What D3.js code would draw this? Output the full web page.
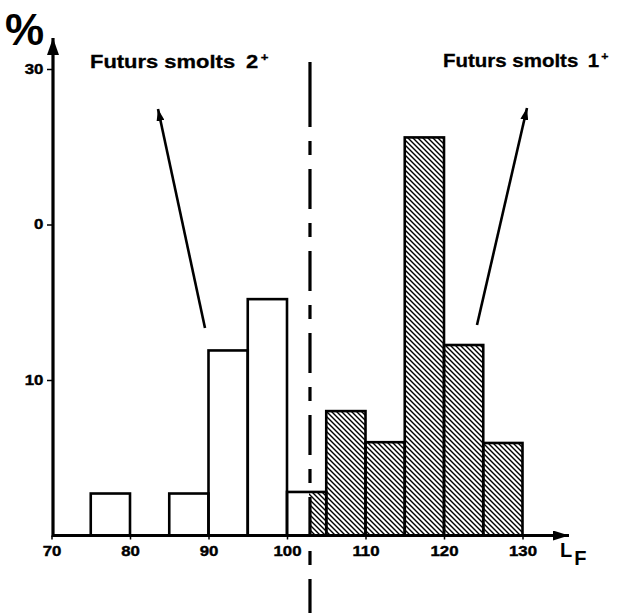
<!DOCTYPE html>
<html>
<head>
<meta charset="utf-8">
<script src="https://cdn.jsdelivr.net/npm/d3@7"></script>
<style>
  html, body { margin: 0; padding: 0; background: #fff; }
  svg { display: block; }
  text { font-family: "Liberation Sans", Arial, sans-serif; font-weight: bold; fill: #000; }
</style>
</head>
<body>
<svg id="chart" width="626" height="613"></svg>
<script>
// ---- data ----
const binStart  = [75, 85, 90, 95, 100, 105, 110, 115, 120, 125];
const binWidth  = 5;
const binValues = [2.7, 2.7, 11.9, 15.2, 2.8, 8.0, 6.0, 25.6, 12.25, 5.95];
const splitValue = 102.8;              // dashed separation line (L_F)
const xTicks = [70, 80, 90, 100, 110, 120, 130];
const yTicks = [10, 20, 30];
const yTickLabels = ["10", "0", "30"];
const groupLabels = ["Futurs smolts", "Futurs smolts"];
const groupAges = ["2", "1"];

// ---- layout ----
const svg = d3.select("#chart");
const x = d3.scaleLinear().domain([70, 130]).range([51.5, 522.5]);
const y = d3.scaleLinear().domain([0, 30]).range([535.5, 69]);
const axisX = 53;

const defs = svg.append("defs");
const pat = defs.append("pattern")
  .attr("id", "hatch").attr("patternUnits", "userSpaceOnUse")
  .attr("width", 5).attr("height", 5);
pat.append("path")
  .attr("d", "M-1,-1 L6,6 M-1,4 L1,6 M4,-1 L6,1")
  .attr("stroke", "#000").attr("stroke-width", 1.4);

function marker(id, len, wid) {
  defs.append("marker")
    .attr("id", id).attr("markerUnits", "userSpaceOnUse")
    .attr("markerWidth", len).attr("markerHeight", wid)
    .attr("refX", len).attr("refY", wid / 2)
    .attr("orient", "auto")
    .append("path")
    .attr("d", `M0,0 L${len},${wid / 2} L0,${wid} Z`)
    .attr("fill", "#000");
}
marker("arrY", 17, 12);
marker("arrX", 16, 10);
marker("arrA", 12, 8);

const bars = binStart.map((s, i) => ({ x0: s, x1: s + binWidth, v: binValues[i] }));

// white fills
svg.append("g").selectAll("rect.fill").data(bars).join("rect")
  .attr("x", d => x(d.x0)).attr("width", d => x(d.x1) - x(d.x0))
  .attr("y", d => y(d.v)).attr("height", d => y(0) - y(d.v))
  .attr("fill", "#fff");

// hatched parts (right of split)
svg.append("g").selectAll("rect.h").data(bars.filter(d => d.x1 > splitValue)).join("rect")
  .attr("x", d => x(Math.max(d.x0, splitValue)))
  .attr("width", d => x(d.x1) - x(Math.max(d.x0, splitValue)))
  .attr("y", d => y(d.v)).attr("height", d => y(0) - y(d.v))
  .attr("fill", "url(#hatch)");

// outlines
svg.append("g").selectAll("rect.o").data(bars).join("rect")
  .attr("x", d => x(d.x0)).attr("width", d => x(d.x1) - x(d.x0))
  .attr("y", d => y(d.v)).attr("height", d => y(0) - y(d.v))
  .attr("fill", "none").attr("stroke", "#000").attr("stroke-width", 2.6);

// x axis
svg.append("line")
  .attr("x1", axisX).attr("x2", 569).attr("y1", y(0)).attr("y2", y(0))
  .attr("stroke", "#000").attr("stroke-width", 3.2).attr("marker-end", "url(#arrX)");
const gx = svg.append("g").attr("transform", `translate(0,${y(0)})`)
  .call(d3.axisBottom(x).tickValues(xTicks).tickSize(4).tickPadding(7));
gx.select(".domain").remove();
gx.selectAll(".tick line").attr("stroke", "#000").attr("stroke-width", 1.5);
gx.selectAll(".tick text")
  .style("font-size", "14px").attr("fill", "#000")
  .attr("stroke", "#000").attr("stroke-width", 0.4)
  .attr("transform", "scale(1.2,1)");

// y axis
svg.append("line")
  .attr("x1", axisX).attr("x2", axisX).attr("y1", y(0) + 1.5).attr("y2", 38)
  .attr("stroke", "#000").attr("stroke-width", 3.2).attr("marker-end", "url(#arrY)");
const gy = svg.append("g").attr("transform", `translate(${axisX},0)`)
  .call(d3.axisLeft(y).tickValues(yTicks).tickFormat((d, i) => yTickLabels[i]).tickSize(6).tickPadding(2));
gy.select(".domain").remove();
gy.selectAll(".tick line").attr("stroke", "#000").attr("stroke-width", 1.5);
gy.selectAll(".tick text")
  .style("font-size", "14px").attr("fill", "#000")
  .attr("stroke", "#000").attr("stroke-width", 0.4)
  .attr("transform", "scale(1.2,1)");

// dashed separation line
const sx = x(splitValue) + 1;
svg.append("line").attr("x1", sx).attr("x2", sx).attr("y1", 62).attr("y2", 127)
  .attr("stroke", "#000").attr("stroke-width", 3.2);
svg.append("line").attr("x1", sx).attr("x2", sx).attr("y1", 141).attr("y2", 613)
  .attr("stroke", "#000").attr("stroke-width", 3.2).attr("stroke-dasharray", "14,14,40,14");

// annotation arrows
svg.append("line").attr("x1", 205).attr("y1", 328).attr("x2", 158).attr("y2", 109)
  .attr("stroke", "#000").attr("stroke-width", 2.6).attr("marker-end", "url(#arrA)");
svg.append("line").attr("x1", 477).attr("y1", 325).attr("x2", 527).attr("y2", 108)
  .attr("stroke", "#000").attr("stroke-width", 2.6).attr("marker-end", "url(#arrA)");

// group labels (wide, heavy lettering as in the original)
function groupLabel(i, tx, ty, fs, sxk, gap) {
  const t = svg.append("text")
    .attr("transform", `translate(${tx},${ty}) scale(${sxk},1)`)
    .style("font-size", fs + "px")
    .attr("stroke", "#000").attr("stroke-width", 0.3);
  t.append("tspan").text(groupLabels[i]);
  t.append("tspan").attr("dx", gap).text(groupAges[i]);
  t.append("tspan").attr("dx", 2).attr("dy", -7).style("font-size", (fs * 0.6) + "px").text("+");
}
groupLabel(0, 90, 68, 18, 1.22, 9);
groupLabel(1, 443, 66.5, 17.5, 1.17, 8);

// axis titles
svg.append("text").attr("x", 5).attr("y", 45).style("font-size", "44px").text("%");
const lf = svg.append("text").attr("x", 560).attr("y", 557).style("font-size", "20px");
lf.append("tspan").text("L");
lf.append("tspan").attr("dx", 2).attr("dy", 8).text("F");
</script>
</body>
</html>
